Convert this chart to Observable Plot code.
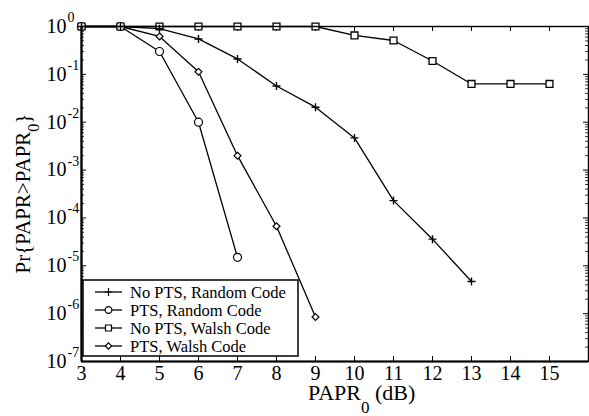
<!DOCTYPE html>
<html>
<head>
<meta charset="utf-8">
<script src="https://cdn.jsdelivr.net/npm/d3@7"></script>
<script src="https://cdn.jsdelivr.net/npm/@observablehq/plot@0.6"></script>
<style>
  html, body { margin: 0; padding: 0; background: white; }
  #chart { width: 589px; height: 416px; }
</style>
</head>
<body>
<div id="chart"></div>
<script>
// ---- data ----
const xNoPtsRandom = [3, 4, 5, 6, 7, 8, 9, 10, 11, 12, 13];
const yNoPtsRandom = [1, 1, 0.9, 0.55, 0.21, 0.057, 0.0206, 0.0047, 2.3e-4, 3.6e-5, 4.7e-6];
const xPtsRandom = [3, 4, 5, 6, 7];
const yPtsRandom = [1, 1, 0.3, 0.01, 1.5e-5];
const xNoPtsWalsh = [3, 4, 5, 6, 7, 8, 9, 10, 11, 12, 13, 14, 15];
const yNoPtsWalsh = [1, 1, 1, 1, 1, 1, 1, 0.65, 0.51, 0.19, 0.063, 0.063, 0.063];
const xPtsWalsh = [3, 4, 5, 6, 7, 8, 9];
const yPtsWalsh = [1, 1, 0.62, 0.113, 0.002, 6.7e-5, 8.5e-7];

const seriesNames = ["No PTS, Random Code", "PTS, Random Code", "No PTS, Walsh Code", "PTS, Walsh Code"];
const xTickValues = [3, 4, 5, 6, 7, 8, 9, 10, 11, 12, 13, 14, 15];
const yTickExponents = [0, -1, -2, -3, -4, -5, -6, -7];

// ---- layout ----
const W = 589, H = 416;
const mL = 81, mR = 1, mT = 26, mB = 55;
const pw = W - mL - mR, ph = H - mT - mB;
const font = "Liberation Serif, Times New Roman, serif";

const zip = (xs, ys, s) => xs.map((x, i) => ({x, y: ys[i], s}));
const sNPR = zip(xNoPtsRandom, yNoPtsRandom, seriesNames[0]);
const sPR = zip(xPtsRandom, yPtsRandom, seriesNames[1]);
const sNPW = zip(xNoPtsWalsh, yNoPtsWalsh, seriesNames[2]);
const sPW = zip(xPtsWalsh, yPtsWalsh, seriesNames[3]);

const yMajor = yTickExponents.map(e => Math.pow(10, e));
const yMinor = [];
for (let e = -7; e < 0; e++) for (let m = 2; m <= 9; m++) yMinor.push(m * Math.pow(10, e));

const lineOpts = {x: "x", y: "y", stroke: "black", strokeWidth: 1.3};

const plot = Plot.plot({
  width: W, height: H,
  marginLeft: mL, marginRight: mR, marginTop: mT, marginBottom: mB,
  style: {fontFamily: font, background: "white", overflow: "visible"},
  x: {domain: [3, 16], axis: null},
  y: {type: "log", domain: [1e-7, 1], axis: null},
  marks: [
    // ticks (inward)
    Plot.ruleX(xTickValues, {x: d => d, insetTop: ph - 5, stroke: "black", strokeWidth: 1}),
    Plot.ruleX(xTickValues, {x: d => d, insetBottom: ph - 5, stroke: "black", strokeWidth: 1}),
    Plot.ruleY(yMajor, {y: d => d, insetRight: pw - 5, stroke: "black", strokeWidth: 1}),
    Plot.ruleY(yMajor, {y: d => d, insetLeft: pw - 5, stroke: "black", strokeWidth: 1}),
    Plot.ruleY(yMinor, {y: d => d, insetRight: pw - 3, stroke: "black", strokeWidth: 0.8}),
    Plot.ruleY(yMinor, {y: d => d, insetLeft: pw - 3, stroke: "black", strokeWidth: 0.8}),
    // series lines
    Plot.line(sNPW, lineOpts),
    Plot.line(sNPR, lineOpts),
    Plot.line(sPW, lineOpts),
    Plot.line(sPR, lineOpts),
    // markers
    Plot.dot(sNPW, {x: "x", y: "y", symbol: "square", r: 3.9, fill: "white", stroke: "black", strokeWidth: 1.3}),
    Plot.dot(sPW, {x: "x", y: "y", symbol: "diamond2", r: 3.1, fill: "white", stroke: "black", strokeWidth: 1.2}),
    Plot.dot(sPR, {x: "x", y: "y", symbol: "circle", r: 4, fill: "white", stroke: "black", strokeWidth: 1.2}),
    Plot.dot(sNPR, {x: "x", y: "y", symbol: "plus", r: 2.7, stroke: "black", strokeWidth: 1.4}),
    // frame
    Plot.frame({stroke: "black", strokeWidth: 1.4}),
    Plot.ruleX([3], {stroke: "black", strokeWidth: 2.2}),
    Plot.ruleY([1e-7], {stroke: "black", strokeWidth: 2.2}),
    // x tick labels
    Plot.text(xTickValues, {x: d => d, y: 1e-7, text: d => String(d), dy: 12, fontSize: 20, fill: "black"}),
    // y tick labels: base and exponent
    Plot.text(yTickExponents, {x: 3, y: e => Math.pow(10, e), text: () => "10", textAnchor: "end", dx: -15, dy: 0, fontSize: 20, fill: "black"}),
    Plot.text(yTickExponents, {x: 3, y: e => Math.pow(10, e), text: e => e === 0 ? "0" : "-" + (-e), textAnchor: "start", dx: -14, dy: -9, fontSize: 14, fill: "black"})
  ]
});

document.getElementById("chart").appendChild(plot);

// ---- labels and legend via d3 ----
const svg = d3.select(plot);

// x label
const xl = svg.append("text")
  .attr("x", 308).attr("y", 400)
  .attr("text-anchor", "start")
  .attr("font-family", font).attr("font-size", 22).attr("fill", "black");
xl.append("tspan").text("PAPR");
xl.append("tspan").attr("font-size", 17).attr("dy", 13).text("0");
xl.append("tspan").attr("dy", -13).text(" (dB)");

// y label
const yl = svg.append("text")
  .attr("transform", `translate(30, ${mT + ph / 2}) rotate(-90)`)
  .attr("text-anchor", "middle")
  .attr("font-family", font).attr("font-size", 21).attr("fill", "black");
yl.append("tspan").text("Pr{PAPR>PAPR");
yl.append("tspan").attr("font-size", 16).attr("dy", 9).text("0");
yl.append("tspan").attr("dy", -9).text("}");

// legend
const lg = svg.append("g");
lg.append("rect").attr("x", 83).attr("y", 280).attr("width", 215).attr("height", 76)
  .attr("fill", "white").attr("stroke", "black").attr("stroke-width", 1.5);
const symbols = [d3.symbolPlus, d3.symbolCircle, d3.symbolSquare, d3.symbolDiamond2];
const sizes = [22, 36, 36, 26];
seriesNames.forEach((name, i) => {
  const cy = 292 + i * 18;
  lg.append("line").attr("x1", 95).attr("x2", 122).attr("y1", cy).attr("y2", cy)
    .attr("stroke", "black").attr("stroke-width", 1.3);
  lg.append("path").attr("d", d3.symbol(symbols[i], sizes[i])())
    .attr("transform", `translate(108.5, ${cy})`)
    .attr("fill", i === 0 ? "none" : "white").attr("stroke", "black").attr("stroke-width", 1.2);
  lg.append("text").attr("x", 130).attr("y", cy).attr("dy", "0.35em")
    .attr("text-anchor", "start")
    .attr("font-family", font).attr("font-size", 16.5).attr("fill", "black").text(name);
});
</script>
</body>
</html>
